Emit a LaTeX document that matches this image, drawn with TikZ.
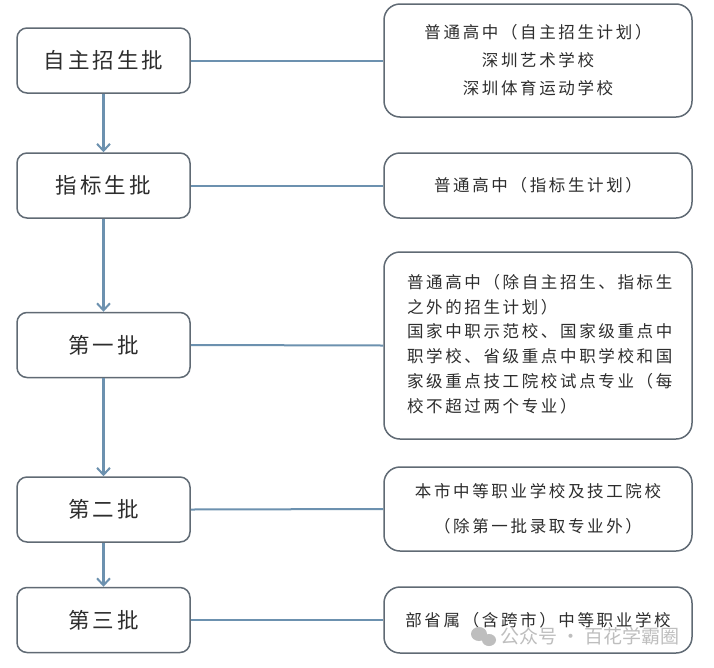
\documentclass[tikz,border=0pt]{standalone}
\usepackage{fontspec}
\setmainfont{Noto Sans CJK SC}
\newfontfamily\lfont{Noto Sans CJK SC}[LetterSpace=14]
\newfontfamily\rfont{Noto Sans CJK SC}[LetterSpace=16]
\newfontfamily\wfont{Noto Sans CJK SC}
\usetikzlibrary{arrows.meta}
\definecolor{bcol}{RGB}{96,106,116}
\definecolor{lcol}{RGB}{108,145,175}
\definecolor{tcol}{RGB}{45,45,45}
\definecolor{wcol}{RGB}{190,190,190}
\begin{document}
\begin{tikzpicture}[x=1pt,y=-1pt,
  lbox/.style={draw=bcol, line width=1.5pt, rounded corners=10pt, minimum width=173pt, minimum height=65pt, inner sep=0pt, text=tcol, font=\lfont\fontsize{21.5}{26}\selectfont},
  rbox/.style={draw=bcol, line width=1.5pt, rounded corners=16pt, minimum width=308pt, inner sep=0pt, text=tcol},
  link/.style={draw=lcol, line width=2pt},
  flow/.style={draw=lcol, line width=2.2pt, -{Straight Barb[length=7pt,width=13pt,line width=2pt]}}
]
\useasboundingbox (0,0) rectangle (714,667);
\fill[white] (0,0) rectangle (714,667);

% left column
\node[lbox] (l1) at (103.5,60.5) {自主招生批};
\node[lbox] (l2) at (103.5,185.5) {指标生批};
\node[lbox] (l3) at (103.5,345) {第一批};
\node[lbox] (l4) at (103.5,509.5) {第二批};
\node[lbox] (l5) at (103.5,620) {第三批};

% right column
\node[rbox, minimum height=113pt, align=center, font=\rfont\fontsize{16.5}{28}\selectfont] (r1) at (538,60.5)
  {普通高中（自主招生计划）\\深圳艺术学校\\深圳体育运动学校};
\node[rbox, minimum height=65pt, font=\rfont\fontsize{16.5}{24}\selectfont] (r2) at (538,185.5)
  {普通高中（指标生计划）};
\node[rbox, minimum height=187pt, text width=308pt, font=\rfont\fontsize{16.5}{24.7}\selectfont] (r3) at (538,345.5)
  {\hspace*{23pt}\begin{tabular}{@{}l@{}}普通高中（除自主招生、指标生\\[-0.2pt]之外的招生计划）\\国家中职示范校、国家级重点中\\职学校、省级重点中职学校和国\\家级重点技工院校试点专业（每\\校不超过两个专业）\end{tabular}};
\node[rbox, minimum height=84pt, align=center, font=\rfont\fontsize{16.5}{35}\selectfont] (r4) at (538,509)
  {本市中等职业学校及技工院校\\（除第一批录取专业外）};
\node[rbox, minimum height=66pt, font=\rfont\fontsize{16.5}{24}\selectfont] (r5) at (538,620)
  {部省属（含跨市）中等职业学校};

% horizontal links
\draw[link] (l1.east) -- (r1.west);
\draw[link] (l2.east) -- (r2.west);
\draw[link] (l3.east) -- (r3.west);
\draw[link] (l4.east) -- (r4.west);
\draw[link] (l5.east) -- (r5.west);

% vertical flow
\draw[flow] (l1.south) -- (l2.north);
\draw[flow] (l2.south) -- (l3.north);
\draw[flow] (l3.south) -- (l4.north);
\draw[flow] (l4.south) -- (l5.north);

% watermark
\fill[wcol] (479,634) ellipse (8pt and 7pt);
\fill[wcol] (489,640) ellipse (7pt and 6pt);
\node[text=wcol, font=\wfont\fontsize{19}{22}\selectfont, anchor=west, inner sep=0pt] (wm) at (500,636) {公众号 · 百花学霸圈};
\end{tikzpicture}
\end{document}
